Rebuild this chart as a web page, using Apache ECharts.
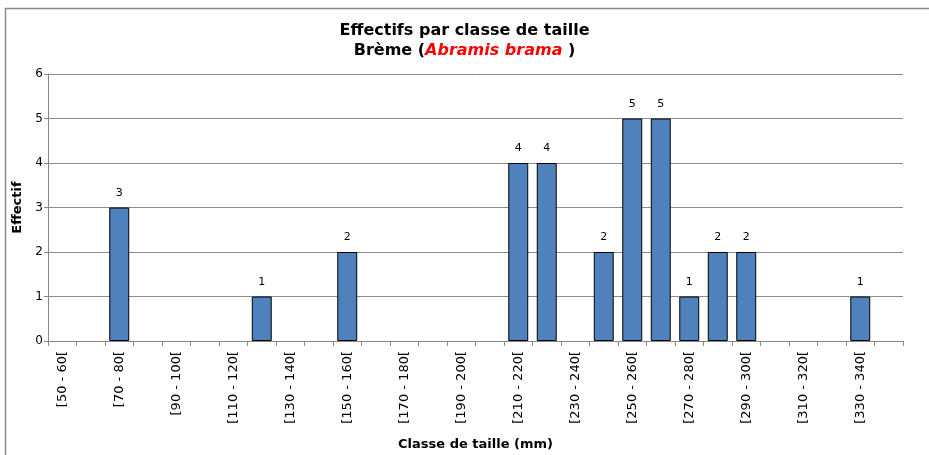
<!DOCTYPE html>
<html>
<head>
<meta charset="utf-8">
<script src="https://cdn.jsdelivr.net/npm/echarts@6/dist/echarts.min.js"></script>
<style>
  html, body { margin: 0; padding: 0; background: #fff; }
  #chart { width: 929px; height: 455px; }
</style>
</head>
<body>
<div id="chart"></div>
<script>
// Size classes (mm), 10 mm wide, from 50 to 350
const classes = [
  '[50 - 60[', '[60 - 70[', '[70 - 80[', '[80 - 90[', '[90 - 100[',
  '[100 - 110[', '[110 - 120[', '[120 - 130[', '[130 - 140[', '[140 - 150[',
  '[150 - 160[', '[160 - 170[', '[170 - 180[', '[180 - 190[', '[190 - 200[',
  '[200 - 210[', '[210 - 220[', '[220 - 230[', '[230 - 240[', '[240 - 250[',
  '[250 - 260[', '[260 - 270[', '[270 - 280[', '[280 - 290[', '[290 - 300[',
  '[300 - 310[', '[310 - 320[', '[320 - 330[', '[330 - 340[', '[340 - 350['
];
// Number of fish per class (null = none caught)
const effectifs = [
  null, null, 3, null, null,
  null, null, 1, null, null,
  2, null, null, null, null,
  null, 4, 4, null, 2,
  5, 5, 1, 2, 2,
  null, null, null, 1, null
];
const yTicks = { min: 0, max: 6, interval: 1 };

const FONT = 'DejaVu Sans';
const chart = echarts.init(document.getElementById('chart'), null, { renderer: 'canvas' });

chart.setOption({
  backgroundColor: '#ffffff',
  animation: false,
  title: {
    text: '{t|Effectifs par classe de taille}\n{t|Brème (}{s|Abramis brama}{t| )}',
    left: 'center',
    top: 16,
    textStyle: {
      rich: {
        t: { fontFamily: FONT, fontWeight: 'bold', fontSize: 16, color: '#000', lineHeight: 20 },
        s: { fontFamily: FONT, fontWeight: 'bold', fontStyle: 'italic', fontSize: 16, color: '#ff0000', lineHeight: 20 }
      }
    }
  },
  graphic: [{
    type: 'rect',
    shape: { x: 5.5, y: 8.5, width: 1000, height: 1000 },
    style: { fill: 'none', stroke: '#8a8a8a', lineWidth: 1.5 },
    silent: true
  }],
  grid: { left: 48, right: 26, top: 74, bottom: 114, containLabel: false, outerBoundsMode: 'none' },
  xAxis: {
    type: 'category',
    data: classes,
    name: 'Classe de taille (mm)',
    nameLocation: 'middle',
    nameGap: 97,
    nameTextStyle: { fontFamily: FONT, fontWeight: 'bold', fontSize: 13, color: '#000' },
    axisLine: { lineStyle: { color: '#868686', width: 1 } },
    axisTick: { show: true, alignWithLabel: false, interval: 0, length: 5, lineStyle: { color: '#868686' } },
    axisLabel: {
      interval: 1,
      rotate: 90,
      margin: 10,
      fontFamily: FONT,
      fontSize: 13,
      color: '#000'
    },
    splitLine: { show: false }
  },
  yAxis: {
    type: 'value',
    min: yTicks.min,
    max: yTicks.max,
    interval: yTicks.interval,
    name: 'Effectif',
    nameLocation: 'middle',
    nameGap: 22,
    nameTextStyle: { fontFamily: FONT, fontWeight: 'bold', fontSize: 13, color: '#000' },
    axisLine: { show: true, lineStyle: { color: '#868686', width: 1 } },
    axisTick: { show: true, length: 4, lineStyle: { color: '#868686' } },
    axisLabel: { fontFamily: FONT, fontSize: 12, color: '#000', margin: 5 },
    splitLine: { show: true, lineStyle: { color: '#8c8c8c', width: 1 } }
  },
  series: [{
    type: 'bar',
    data: effectifs,
    barCategoryGap: '30%',
    itemStyle: { color: '#4f81bd', borderColor: '#000000', borderWidth: 1 },
    label: {
      show: true,
      position: 'top',
      distance: 9,
      fontFamily: FONT,
      fontSize: 11,
      color: '#000'
    }
  }]
});
</script>
</body>
</html>
